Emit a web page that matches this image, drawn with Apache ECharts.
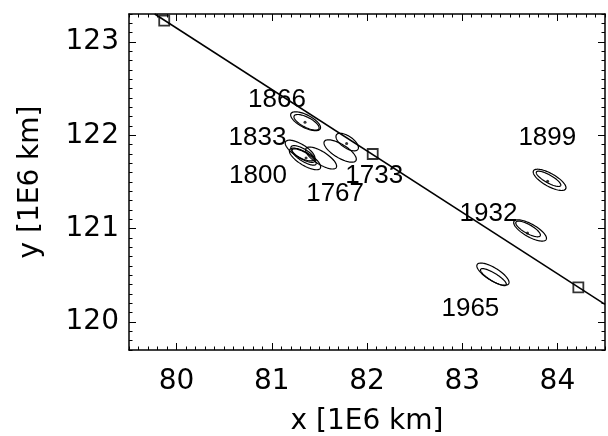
<!DOCTYPE html>
<html>
<head>
<meta charset="utf-8">
<script src="https://cdn.jsdelivr.net/npm/echarts@6/dist/echarts.min.js"></script>
<style>
  html, body { margin: 0; background: #fff; }
  #chart { width: 608px; height: 436px; }
</style>
</head>
<body>
<div id="chart"></div>
<script>
const xTicks = [80, 81, 82, 83, 84];
const yTicks = [120, 121, 122, 123];

// fitted straight line
const lineX = [79.77, 84.5];
const lineY = [123.3, 120.19];

// square markers on the line
const squareX = [79.87, 82.06, 84.22];
const squareY = [123.23, 121.8, 120.37];

// error ellipses: centre, semi-axes (1E6 km), tilt in degrees (clockwise)
const ellX = [81.355, 81.365, 81.297, 81.328, 81.349, 81.339, 81.518, 81.718, 81.792, 83.918, 83.907, 83.713, 83.692, 83.323, 83.328];
const ellY = [122.151, 122.140, 121.837, 121.800, 121.747, 121.768, 121.757, 121.832, 121.928, 121.523, 121.534, 120.981, 120.997, 120.513, 120.481];
const ellA = [0.174, 0.147, 0.179, 0.147, 0.189, 0.147, 0.189, 0.195, 0.137, 0.195, 0.147, 0.195, 0.147, 0.195, 0.158];
const ellB = [0.068, 0.053, 0.068, 0.053, 0.068, 0.047, 0.068, 0.072, 0.063, 0.068, 0.042, 0.068, 0.047, 0.068, 0.042];
const ellTilt = [28, 28, 32, 32, 32, 32, 33, 32, 35, 30, 30, 30, 30, 32, 32];

// best positions (small dots)
const dotX = [81.349, 81.786, 81.360, 83.897, 83.686];
const dotY = [122.140, 121.912, 121.757, 121.507, 120.954];

// epoch labels
const labelText = ["1866", "1833", "1899", "1800", "1733", "1767", "1932", "1965"];
const labelX = [81.055, 80.849, 83.894, 80.855, 82.076, 81.665, 83.276, 83.086];
const labelY = [122.406, 121.995, 121.995, 121.587, 121.587, 121.393, 121.180, 120.162];

const TICK_FONT = "DejaVu Sans";
const LABEL_FONT = "Liberation Sans";
const black = "#000";

function minorAxis(pos, min, max) {
  return {
    type: "value",
    position: pos,
    min: min,
    max: max,
    interval: 0.1,
    axisLine: { show: true, onZero: false, lineStyle: { color: black, width: 1.5 } },
    axisTick: { show: true, inside: true, length: 3.5, lineStyle: { color: black, width: 1 } },
    axisLabel: { show: false },
    splitLine: { show: false },
  };
}

function majorAxis(pos, min, max, ticks, withLabels) {
  return {
    type: "value",
    position: pos,
    min: min,
    max: max,
    axisLine: { show: false, onZero: false },
    axisTick: { show: true, inside: true, length: 7, customValues: ticks, lineStyle: { color: black, width: 1 } },
    axisLabel: {
      show: withLabels,
      customValues: ticks,
      color: black,
      fontFamily: TICK_FONT,
      fontSize: 28,
      margin: pos === "bottom" ? 18 : 10,
    },
    splitLine: { show: false },
  };
}

const chart = echarts.init(document.getElementById("chart"), null, { renderer: "canvas" });

const xMain = majorAxis("bottom", 79.5, 84.5, xTicks, true);
xMain.name = "x [1E6 km]";
xMain.nameLocation = "middle";
xMain.nameGap = 58;
xMain.nameTextStyle = { color: black, fontFamily: TICK_FONT, fontSize: 28 };

const yMain = majorAxis("left", 119.7, 123.3, yTicks, true);
yMain.name = "y [1E6 km]";
yMain.nameLocation = "middle";
yMain.nameGap = 84;
yMain.nameTextStyle = { color: black, fontFamily: TICK_FONT, fontSize: 28 };

chart.setOption({
  animation: false,
  backgroundColor: "#fff",
  grid: { left: 129, right: 3, top: 14, bottom: 86, containLabel: false, outerBoundsMode: "none" },
  xAxis: [
    xMain,
    minorAxis("bottom", 79.5, 84.5),
    minorAxis("top", 79.5, 84.5),
    majorAxis("top", 79.5, 84.5, xTicks, false),
  ],
  yAxis: [
    yMain,
    minorAxis("left", 119.7, 123.3),
    minorAxis("right", 119.7, 123.3),
    majorAxis("right", 119.7, 123.3, yTicks, false),
  ],
  series: [
    {
      type: "line",
      data: lineX.map((x, i) => [x, lineY[i]]),
      symbol: "none",
      clip: true,
      lineStyle: { color: black, width: 1.5 },
    },
    {
      type: "custom",
      clip: true,
      data: ellX.map((x, i) => [x, ellY[i], ellA[i], ellB[i], ellTilt[i]]),
      renderItem: (params, api) => {
        const cx = api.value(0), cy = api.value(1);
        const a = api.value(2), b = api.value(3);
        const t = (api.value(4) * Math.PI) / 180;
        const pts = [];
        for (let k = 0; k < 90; k++) {
          const p = (k / 90) * 2 * Math.PI;
          const dx = a * Math.cos(p) * Math.cos(t) - b * Math.sin(p) * Math.sin(t);
          const dy = -(a * Math.cos(p) * Math.sin(t) + b * Math.sin(p) * Math.cos(t));
          pts.push(api.coord([cx + dx, cy + dy]));
        }
        return {
          type: "polygon",
          shape: { points: pts },
          style: { fill: "none", stroke: black, lineWidth: 1.2 },
        };
      },
    },
    {
      type: "scatter",
      data: dotX.map((x, i) => [x, dotY[i]]),
      symbol: "circle",
      symbolSize: 3,
      itemStyle: { color: black },
    },
    {
      type: "scatter",
      data: squareX.map((x, i) => [x, squareY[i]]),
      symbol: "rect",
      symbolSize: 10,
      itemStyle: { color: "rgba(0,0,0,0)", borderColor: black, borderWidth: 1.8 },
    },
    {
      type: "custom",
      clip: false,
      data: labelX.map((x, i) => [x, labelY[i], i]),
      renderItem: (params, api) => {
        const pt = api.coord([api.value(0), api.value(1)]);
        return {
          type: "text",
          x: pt[0],
          y: pt[1] + 2,
          style: {
            text: labelText[api.value(2)],
            fill: black,
            font: "26px '" + LABEL_FONT + "'",
            align: "center",
            verticalAlign: "middle",
          },
        };
      },
    },
  ],
});
</script>
</body>
</html>
